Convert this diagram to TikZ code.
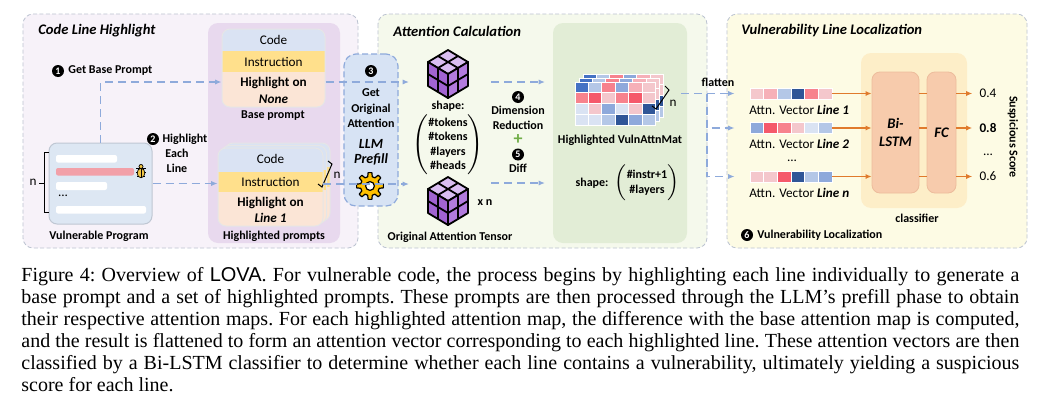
\documentclass[tikz,border=0pt]{standalone}
\usepackage{fontspec}
\setmainfont{Liberation Serif}
\newfontfamily\figfont{Carlito}
\newfontfamily\lovafont{Liberation Sans}
\usetikzlibrary{arrows.meta}

\definecolor{panelgray}{HTML}{BCC3D1}
\definecolor{bgA}{HTML}{F7F2F9}
\definecolor{bgB}{HTML}{F5F9EC}
\definecolor{bgC}{HTML}{FDFBE4}
\definecolor{colA}{HTML}{E8D9EE}
\definecolor{colB}{HTML}{E2EDD6}
\definecolor{clsbg}{HTML}{FDEEC8}
\definecolor{lstmfill}{HTML}{F7CBAC}
\definecolor{lstmline}{HTML}{EDBC9C}
\definecolor{llmfill}{HTML}{D7E3F4}
\definecolor{dashblue}{HTML}{8EAADB}
\definecolor{codeblue}{HTML}{DAE3F3}
\definecolor{instyellow}{HTML}{FFE08C}
\definecolor{hlpeach}{HTML}{FBE5D6}
\definecolor{boxline}{HTML}{E6E6E6}
\definecolor{progfill}{HTML}{DDE7F3}
\definecolor{progline}{HTML}{BFC7D3}
\definecolor{redbar}{HTML}{F2A0A8}
\definecolor{bugyellow}{HTML}{F2C744}
\definecolor{orangeline}{HTML}{E07A2C}
\definecolor{cubetop}{HTML}{D9BDF1}
\definecolor{cubeleft}{HTML}{A163D1}
\definecolor{cuberight}{HTML}{B27BDD}
\definecolor{gearyellow}{HTML}{FFC000}
\definecolor{plusgreen}{HTML}{70AD47}
% heat map colours
\definecolor{hA}{HTML}{2F5597}
\definecolor{hAA}{HTML}{4472C4}
\definecolor{hB}{HTML}{8EA9DB}
\definecolor{hC}{HTML}{B4C7E7}
\definecolor{hD}{HTML}{DAE3F3}
\definecolor{hE}{HTML}{F4C7CC}
\definecolor{hP}{HTML}{F6B0B8}
\definecolor{hF}{HTML}{F7828D}
\definecolor{hG}{HTML}{F5596A}

\begin{document}
\begin{tikzpicture}[x=0.5pt, y=-0.5pt,
    lbl/.style={inner sep=0pt, align=center, font=\figfont\bfseries\fontsize{6}{7.3}\selectfont},
    ttl/.style={inner sep=0pt, anchor=west, font=\figfont\bfseries\itshape\fontsize{7.3}{8}\selectfont},
    txt/.style={inner sep=0pt, align=center, font=\figfont\fontsize{6.6}{8}\selectfont},
    hltxt/.style={inner sep=0pt, align=center, font=\figfont\bfseries\fontsize{6.6}{8.3}\selectfont},
    num/.style={circle, fill=black, text=white, inner sep=0pt, minimum size=6pt, font=\figfont\bfseries\fontsize{5}{5}\selectfont},
    score/.style={inner sep=3.5pt, font=\figfont\fontsize{6.6}{8}\selectfont},
    panel/.style={draw=panelgray, dash pattern=on 2pt off 1.2pt, line width=0.4pt, rounded corners=5pt},
    flow/.style={dashblue, line width=0.7pt, dash pattern=on 4pt off 2.5pt, -{Latex[length=3.2pt,width=2.6pt]}},
    feed/.style={orangeline, line width=0.8pt, -{Latex[length=3pt,width=2.6pt]}},
    feedline/.style={orangeline, line width=0.8pt},
    netbox/.style={draw=lstmline, fill=lstmfill, rounded corners=4pt, line width=0.4pt, inner sep=0pt, align=center, font=\figfont\bfseries\itshape\fontsize{7.3}{9}\selectfont}
]
\useasboundingbox (0,0) rectangle (1046,402);
\fill[white] (0,0) rectangle (1046,402);

% panels
\draw[panel, fill=bgA] (23,14) rectangle (358,248);
\draw[panel, fill=bgB] (378,14) rectangle (707,248);
\draw[panel, fill=bgC] (727,14) rectangle (1027,248);
\fill[colA, rounded corners=5pt] (208,23) rectangle (340,243);
\fill[colB, rounded corners=5pt] (553,23) rectangle (687,243);
\fill[clsbg, rounded corners=5pt] (861,53) rectangle (967,208);

\node[ttl] (ttlA) at (38,31) {Code Line Highlight};
\node[ttl] (ttlB) at (393,31) {Attention Calculation};
\node[ttl] (ttlC) at (741,31) {Vulnerability Line Localization};

% vulnerable program
\node[draw=progline, fill=progfill, rounded corners=4pt, line width=0.5pt, minimum width=51.5pt, minimum height=40.5pt, inner sep=0pt] (prog) at (100.5,183.5) {};
\fill[white, rounded corners=1pt] (56,155) rectangle (117,162.5);
\fill[redbar, rounded corners=1pt] (56,168) rectangle (134,175.5);
\fill[white, rounded corners=1pt] (56,182) rectangle (107,190);
\fill[white, rounded corners=1pt] (56,206) rectangle (146,213.5);
\node[txt] (dots) at (63,196) {...};
\draw[line width=0.3pt] (136,168) -- (146,168) (136,172) -- (146,172) (137,176.5) -- (145,176.5);
\filldraw[fill=bugyellow, line width=0.35pt] (141,173) ellipse (1.9pt and 2.4pt);
\filldraw[fill=bugyellow, line width=0.35pt] (141,166.5) circle (1pt);
\draw[line width=0.3pt] (141,169) -- (141,177.5);
\draw[line width=0.5pt] (49,152) -- (44,152) -- (44,212) -- (49,212) (44,183) -- (39,183);
\node[txt] (nprog) at (33,182) {n};
\node[lbl] (progl) at (99,236) {Vulnerable Program};

\node[num] (n1) at (58,71) {1};
\node[lbl, anchor=west] (t1) at (68,71) {Get Base Prompt};
\node[num] (n2) at (153,139) {2};
\node[lbl] (t2a) at (185,139) {Highlight};
\node[lbl] (t2b) at (177,161) {Each\\Line};

% base prompt
\begin{scope}
  \clip[rounded corners=4pt] (222,29) rectangle (325,107);
  \fill[codeblue] (222,29) rectangle (325,51);
  \fill[instyellow] (222,51) rectangle (325,72);
  \fill[hlpeach] (222,72) rectangle (325,107);
\end{scope}
\node[draw=boxline, rounded corners=4pt, minimum width=51.5pt, minimum height=39pt, inner sep=0pt, line width=0.5pt] (basep) at (273.5,68) {};
\node[txt] (bcode) at (273.5,40) {Code};
\node[txt] (binst) at (273.5,61.5) {Instruction};
\node[hltxt] (bhl) at (273.5,90.5) {Highlight on\\\textit{None}};
\node[lbl] (basel) at (273,116) {Base prompt};

% highlighted prompts
\foreach \k in {2,1,0} {
  \begin{scope}[shift={(3.5*\k,-2.5*\k)}]
    \begin{scope}
      \clip[rounded corners=4pt] (218,148) rectangle (323,226);
      \fill[codeblue] (218,148) rectangle (323,172);
      \fill[instyellow] (218,172) rectangle (323,192);
      \fill[hlpeach] (218,192) rectangle (323,226);
    \end{scope}
    \draw[boxline, rounded corners=4pt, line width=0.5pt] (218,148) rectangle (323,226);
  \end{scope}
}
\node[minimum width=52.5pt, minimum height=39pt, inner sep=0pt] (hlp) at (270.5,187) {};
\node[txt] (hcode) at (270.5,159) {Code};
\node[txt] (hinst) at (270.5,181.5) {Instruction};
\node[hltxt] (hhl) at (270.5,210) {Highlight on\\\textit{Line 1}};
\node[lbl] (hlpl) at (274,236) {Highlighted prompts};
\draw[line width=0.5pt] (328,161) -- (332,164) -- (322,187) -- (318,184);
\node[txt] (nhl) at (337,175) {n};

% LLM prefill
\node[draw=dashblue, fill=llmfill, dash pattern=on 3pt off 1.5pt, line width=0.6pt, rounded corners=6pt, minimum width=27pt, minimum height=76pt, inner sep=0pt] (llm) at (371,130) {};
\node[num] (n3) at (371,71) {3};
\node[lbl, font=\figfont\bfseries\fontsize{6}{7.7}\selectfont] (t3) at (371,108.5) {Get\\Original\\Attention};
\node[lbl, font=\figfont\bfseries\itshape\fontsize{7}{7.5}\selectfont] (t3b) at (371,152.5) {LLM\\Prefill};
\filldraw[fill=gearyellow, line width=0.6pt, line join=round] (370,186) +(-14:9.5)
  \foreach \a in {0,45,...,315} { -- +(\a-14:9.5) -- +(\a-8:13.5) -- +(\a+8:13.5) -- +(\a+14:9.5) } -- cycle;
\filldraw[fill=white, line width=0.6pt] (370,186) circle (2.2pt);

% attention tensors
\foreach \cy in {74,201} {
  \filldraw[fill=cubetop, line width=0.9pt, line join=round] (448,\cy-24) -- (468,\cy-12) -- (448,\cy) -- (428,\cy-12) -- cycle;
  \filldraw[fill=cubeleft, line width=0.9pt, line join=round] (428,\cy-12) -- (448,\cy) -- (448,\cy+24) -- (428,\cy+12) -- cycle;
  \filldraw[fill=cuberight, line width=0.9pt, line join=round] (448,\cy) -- (468,\cy-12) -- (468,\cy+12) -- (448,\cy+24) -- cycle;
  \draw[line width=0.9pt] (458,\cy-18) -- (438,\cy-6) (438,\cy-18) -- (458,\cy-6)
    (438,\cy-6) -- (438,\cy+18) (428,\cy) -- (448,\cy+12)
    (458,\cy-6) -- (458,\cy+18) (448,\cy+12) -- (468,\cy);
}
\node[lbl] (shp1) at (448,106) {shape:};
\node[lbl] (dims1) at (448,145) {$\left(\begin{tabular}{@{}c@{}}\#tokens\\\#tokens\\\#layers\\\#heads\end{tabular}\right)$};
\node[lbl] (xn) at (485,203) {x n};
\node[lbl] (tens) at (450,237) {Original Attention Tensor};

\node[num] (n4) at (518,97) {4};
\node[lbl] (t4) at (518,118) {Dimension\\Reduction};
\node[inner sep=0pt, text=plusgreen, font=\figfont\bfseries\fontsize{9}{9}\selectfont] (plus) at (518,140) {+};
\node[num] (n5) at (518,154.5) {5};
\node[lbl] (t5) at (518,168.5) {Diff};

% highlighted attention matrices
\foreach \k in {2,1,0} {
  \begin{scope}[shift={(4*\k,-4*\k)}]
    \foreach \hrow [count=\rowi] in {{hAA,hC,hF,hB,hP,hE},{hF,hG,hE,hF,hG,hE},{hD,hE,hB,hD,hE,hA},{hD,hD,hC,hA,hB,hC}} {
      \foreach \hcol [count=\colj] in \hrow {
        \filldraw[fill=\hcol, draw=white, line width=0.4pt] (575+13.4*\colj-13.4,82+10.8*\rowi-10.8) rectangle ++(13.4,10.8);
      }
    }
  \end{scope}
}
\draw[line width=0.5pt] (665,86) -- (669,90) -- (656,109) -- (652,106);
\node[txt] (nhm) at (673,103) {n};
\node[lbl] (hmat) at (620,140) {Highlighted VulnAttnMat};
\node[lbl] (shp2) at (592,183) {shape:};
\node[lbl] (dims2) at (647,183) {$\left(\begin{tabular}{@{}c@{}}\#instr+1\\\#layers\end{tabular}\right)$};

% attention vectors
\foreach \vc [count=\colj] in {hE,hP,hC,hA,hF,hE}
  \filldraw[fill=\vc, draw=white, line width=0.4pt] (750+13.67*\colj-13.67,88) rectangle ++(13.67,11);
\foreach \vc [count=\colj] in {hB,hG,hF,hE,hD,hC}
  \filldraw[fill=\vc, draw=white, line width=0.4pt] (750+13.67*\colj-13.67,122.5) rectangle ++(13.67,11);
\foreach \vc [count=\colj] in {hE,hE,hG,hA,hC,hB}
  \filldraw[fill=\vc, draw=white, line width=0.4pt] (750+13.67*\colj-13.67,171) rectangle ++(13.67,11);
\node[minimum width=41pt, minimum height=5.5pt, inner sep=0pt] (v1) at (791,93.5) {};
\node[minimum width=41pt, minimum height=5.5pt, inner sep=0pt] (v2) at (791,128) {};
\node[minimum width=41pt, minimum height=5.5pt, inner sep=0pt] (v3) at (791,176.5) {};
\node[txt, anchor=west] (l1) at (749,110) {Attn. Vector \textbf{\textit{Line 1}}};
\node[txt, anchor=west] (l2) at (749,144) {Attn. Vector \textbf{\textit{Line 2}}};
\node[txt] (ldots) at (792,160.5) {...};
\node[txt, anchor=west] (l3) at (749,193) {Attn. Vector \textbf{\textit{Line n}}};
\node[lbl] (flatl) at (718,82) {flatten};

% classifier
\node[netbox, minimum width=23.5pt, minimum height=60.5pt] (lstm) at (895.5,132.5) {Bi-\\LSTM};
\node[netbox, minimum width=14.5pt, minimum height=60.5pt] (fc) at (941.5,132.5) {FC};
\node[lbl] (clsl) at (917,218) {classifier};
\node[score] (s1) at (988,93.5) {0.4};
\node[score] (s2) at (988,128) {\textbf{0.8}};
\node[txt] (sdots) at (988,155) {...};
\node[score] (s3) at (988,176.5) {0.6};
\node[lbl, rotate=-90] (susp) at (1013,137) {Suspicious Score};
\node[num] (n6) at (747,235) {6};
\node[lbl, anchor=west] (t6) at (757,235) {Vulnerability Localization};

% connectors
\coordinate (c1in) at (409,82);
\coordinate (c2in) at (409,184);
\coordinate (c1out) at (491,82);
\coordinate (c2out) at (491,183);
\coordinate (m1in) at (545,82);
\coordinate (m2in) at (545,183);
\coordinate (flat) at (681,93.5);
\coordinate (fork) at (707,93.5);
\draw[flow] (prog.north) |- (basep.west |- c1in);
\draw[flow] (prog.east) -- (prog.east -| hlp.west);
\draw[flow] (basep.east |- c1in) -- (c1in);
\draw[flow] (hlp.east |- c2in) -- (c2in);
\draw[flow] (c1out) -- (m1in);
\draw[flow] (c2out) -- (m2in);
\draw[flow, shorten >=7.5pt] (flat) -- (v1.west);
\draw[flow, shorten >=7.5pt] (fork) |- (v2.west);
\draw[flow, shorten >=7.5pt] (fork) |- (v3.west);
\foreach \v/\s in {v1/s1,v2/s2,v3/s3} {
  \draw[feed] (\v.east) -- (\v.east -| lstm.west);
  \draw[feedline] (\v.east -| lstm.east) -- (\v.east -| fc.west);
  \draw[feed] (\v.east -| fc.east) -- (\s.west);
}

% caption
\node[anchor=north west, inner sep=0pt, text width=499pt, align=justify, font=\fontsize{10}{11}\selectfont\frenchspacing] (cap) at (21,267) {Figure 4: Overview of {\lovafont LOVA}. For vulnerable code, the process begins by highlighting each line individually to generate a\linebreak base prompt and a set of highlighted prompts. These prompts are then processed through the LLM’s prefill phase to obtain\linebreak their respective attention maps. For each highlighted attention map, the difference with the base attention map is computed,\linebreak and the result is flattened to form an attention vector corresponding to each highlighted line. These attention vectors are then\linebreak classified by a Bi-LSTM classifier to determine whether each line contains a vulnerability, ultimately yielding a suspicious\linebreak score for each line.};
\end{tikzpicture}
\end{document}
